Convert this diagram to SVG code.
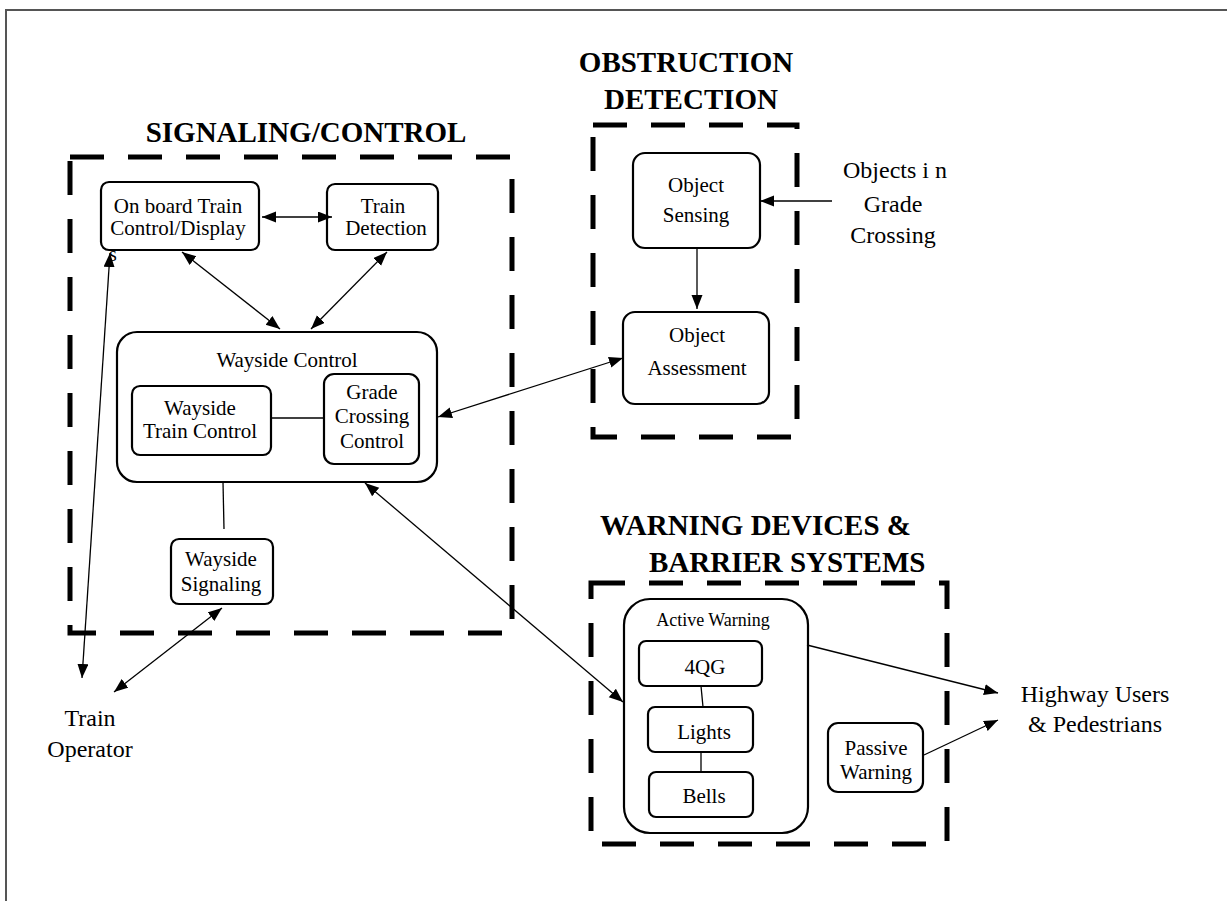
<svg xmlns="http://www.w3.org/2000/svg" width="1227" height="901" viewBox="0 0 1227 901">
<style>
  text { font-family: "Liberation Serif", "Times New Roman", serif; fill: #000; }
  .title { font-size: 29px; font-weight: bold; text-anchor: middle; }
  .lbl { font-size: 21px; text-anchor: middle; }
  .ext { font-size: 24px; text-anchor: middle; }
  .box { fill: #fff; stroke: #000; stroke-width: 2.2; }
  .grp { fill: none; stroke: #000; stroke-width: 5; stroke-dasharray: 34 24; }
  .con { fill: none; stroke: #000; stroke-width: 1.3; }
  .frame { fill: none; stroke: #555; stroke-width: 2; }
</style>
<defs>
  <marker id="ah" markerUnits="userSpaceOnUse" markerWidth="15" markerHeight="12" refX="14" refY="5.5" orient="auto-start-reverse">
    <path d="M0,0 L14,5.5 L0,11 z" fill="#000"/>
  </marker>
</defs>
<rect width="1227" height="901" fill="#fff"/>
<path class="frame" d="M6,901 V10 H1227"/>

<g id="group-signaling">
  <rect class="grp" x="70" y="157" width="442" height="476"/>
  <text class="title" x="306" y="142">SIGNALING/CONTROL</text>
</g>
<g id="group-obstruction">
  <rect class="grp" x="593" y="125" width="204" height="312"/>
  <text class="title" x="686" y="72">OBSTRUCTION</text>
  <text class="title" x="691" y="109">DETECTION</text>
</g>
<g id="group-warning">
  <rect class="grp" x="591" y="583" width="356" height="261"/>
  <text class="title" x="600" y="535" style="text-anchor:start">WARNING DEVICES &amp;</text>
  <text class="title" x="649" y="572" style="text-anchor:start">BARRIER SYSTEMS</text>
</g>

<g id="onboard">
  <text x="109" y="261" style="font-size:20px">s</text>
  <rect class="box" x="101" y="182" width="158" height="68" rx="8"/>
  <text class="lbl" x="178" y="213">On board Train</text>
  <text class="lbl" x="178" y="235">Control/Display</text>
</g>
<g id="train-detection">
  <rect class="box" x="327" y="184" width="111" height="66" rx="8"/>
  <text class="lbl" x="383" y="213">Train</text>
  <text class="lbl" x="386" y="235">Detection</text>
</g>
<g id="wayside-control">
  <rect class="box" x="117" y="332" width="320" height="150" rx="20"/>
  <text class="lbl" x="287" y="367">Wayside Control</text>
</g>
<g id="wayside-train-control">
  <rect class="box" x="132" y="386" width="139" height="69" rx="8"/>
  <text class="lbl" x="200" y="415">Wayside</text>
  <text class="lbl" x="200" y="438">Train Control</text>
</g>
<g id="grade-crossing-control">
  <rect class="box" x="324" y="374" width="95" height="90" rx="10"/>
  <text class="lbl" x="372" y="399">Grade</text>
  <text class="lbl" x="372" y="423">Crossing</text>
  <text class="lbl" x="372" y="448">Control</text>
</g>
<g id="wayside-signaling">
  <rect class="box" x="171" y="539" width="102" height="65" rx="8"/>
  <text class="lbl" x="221" y="566">Wayside</text>
  <text class="lbl" x="221" y="591">Signaling</text>
</g>
<g id="train-operator">
  <text class="ext" x="90" y="726">Train</text>
  <text class="ext" x="90" y="757">Operator</text>
</g>
<g id="object-sensing">
  <rect class="box" x="633" y="153" width="127" height="95" rx="12"/>
  <text class="lbl" x="696" y="192">Object</text>
  <text class="lbl" x="696" y="222">Sensing</text>
</g>
<g id="object-assessment">
  <rect class="box" x="623" y="312" width="146" height="92" rx="12"/>
  <text class="lbl" x="697" y="342">Object</text>
  <text class="lbl" x="697" y="375">Assessment</text>
</g>
<g id="objects-in-crossing">
  <text class="ext" x="895" y="178">Objects i n</text>
  <text class="ext" x="893" y="212">Grade</text>
  <text class="ext" x="893" y="243">Crossing</text>
</g>
<g id="active-warning">
  <rect class="box" x="624" y="599" width="184" height="234" rx="26"/>
  <text x="713" y="626" style="font-size:18px;text-anchor:middle">Active Warning</text>
</g>
<g id="4qg">
  <rect class="box" x="639" y="641" width="123" height="45" rx="7"/>
  <text class="lbl" x="705" y="674">4QG</text>
</g>
<g id="lights">
  <rect class="box" x="648" y="707" width="105" height="45" rx="7"/>
  <text class="lbl" x="704" y="739">Lights</text>
</g>
<g id="bells">
  <rect class="box" x="649" y="772" width="104" height="45" rx="7"/>
  <text class="lbl" x="704" y="803">Bells</text>
</g>
<g id="passive-warning">
  <rect class="box" x="828" y="723" width="95" height="69" rx="10"/>
  <text class="lbl" x="876" y="755">Passive</text>
  <text class="lbl" x="876" y="779">Warning</text>
</g>
<g id="highway-users">
  <text class="ext" x="1095" y="702">Highway Users</text>
  <text class="ext" x="1095" y="732">&amp; Pedestrians</text>
</g>

<g id="connectors">
  <line class="con" x1="262" y1="217" x2="332" y2="217" marker-start="url(#ah)" marker-end="url(#ah)"/>
  <line class="con" x1="182" y1="252" x2="280" y2="329" marker-start="url(#ah)" marker-end="url(#ah)"/>
  <line class="con" x1="387" y1="252" x2="311" y2="329" marker-start="url(#ah)" marker-end="url(#ah)"/>
  <line class="con" x1="271" y1="418" x2="324" y2="418"/>
  <line class="con" x1="223" y1="482" x2="224" y2="529"/>
  <line class="con" x1="110" y1="253" x2="82" y2="678" marker-start="url(#ah)" marker-end="url(#ah)"/>
  <line class="con" x1="222" y1="608" x2="114" y2="692" marker-start="url(#ah)" marker-end="url(#ah)"/>
  <line class="con" x1="438" y1="417" x2="623" y2="358" marker-start="url(#ah)" marker-end="url(#ah)"/>
  <line class="con" x1="365" y1="483" x2="623" y2="702" marker-start="url(#ah)" marker-end="url(#ah)"/>
  <line class="con" x1="832" y1="201" x2="760" y2="201" marker-end="url(#ah)"/>
  <line class="con" x1="697" y1="248" x2="697" y2="309" marker-end="url(#ah)"/>
  <line class="con" x1="701" y1="686" x2="703" y2="707"/>
  <line class="con" x1="701" y1="752" x2="701" y2="772"/>
  <line class="con" x1="807" y1="645" x2="998" y2="693" marker-end="url(#ah)"/>
  <line class="con" x1="924" y1="755" x2="998" y2="720" marker-end="url(#ah)"/>
</g>
</svg>
